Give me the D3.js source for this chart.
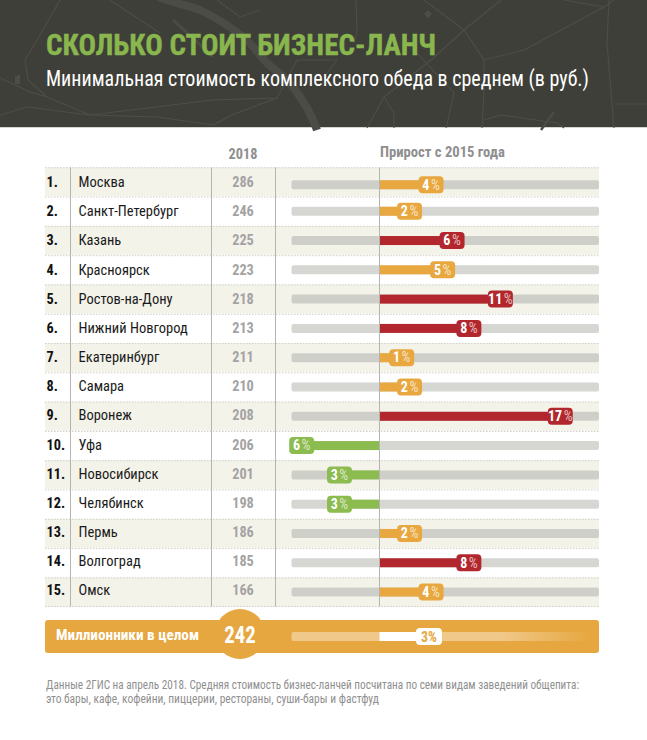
<!DOCTYPE html>
<html><head><meta charset="utf-8">
<script src="https://cdn.jsdelivr.net/npm/d3@7"></script>
<style>
html,body{margin:0;padding:0;background:#fff}
svg{display:block}
text{font-family:"Liberation Sans Narrow","Roboto Condensed","Liberation Sans",Roboto,sans-serif}
</style></head><body>
<svg id="c" width="647" height="740"></svg>
<script>
const cities=["Москва","Санкт-Петербург","Казань","Красноярск","Ростов-на-Дону","Нижний Новгород","Екатеринбург","Самара","Воронеж","Уфа","Новосибирск","Челябинск","Пермь","Волгоград","Омск"];
const prices=[286,246,225,223,218,213,211,210,208,206,201,198,186,185,166];
const growthLabels=[4,2,6,5,11,8,1,2,17,6,3,3,2,8,4];
const growthBars=[4.1,2.05,6.1,5.2,10.7,7.7,1.3,2.05,16.4,-6.6,-3,-3,2.05,7.7,4.1];
const totalName="Миллионники в целом";
const totalPrice=242;
const totalLabel=3;
const totalBar=3.95;
const mapRoads=[
"M0,78 L30,92 L47,97 L90,115 L157,117 L213,125","M60,0 L43,30 L25,60 L28,80 L47,97","M0,115 L27,107 L90,115 L213,100 L277,98 L297,60",
"M110,0 L160,33","M217,0 L240,17 L260,10","M356,0 L357,30 L354,43","M424,0 L464,30 L484,60 L484,93 L482,128","M501,0 L464,30 L431,60 L384,97 L367,128",
"M484,60 L524,50 L604,7 L614,0","M564,0 L604,7","M609,0 L607,43 L614,128","M614,104 L647,104","M384,97 L394,113 L394,128","M417,53 L454,93 L446,128",
"M337,60 L324,77","M484,120 L501,115 L557,123 L564,128","M297,60 L337,60","M213,125 L232,115 L277,98"];
const mapRiver="M158,-3 C175,3 190,6 200,10 C215,17 232,28 243,37 C253,45 260,56 267,63 C277,72 287,78 293,87 C303,100 312,115 317,130";
const mapBranch="M173,20 L195,40 L213,57";
const mapSpots=["M428,10 L432,14 L428,18 L424,14 Z","M15,77 L20,74 L20,84 L15,84 Z"];
const mapCanal="M554,112 L541,130";

const svg=d3.select("#c");
const defs=svg.append("defs");
const fade=defs.append("linearGradient").attr("id","fade");
fade.append("stop").attr("offset","0.7").attr("stop-color","#f0c98a");
fade.append("stop").attr("offset","1").attr("stop-color","#e6a740");

function squeeze(sel,k){sel.each(function(){const n=this.getComputedTextLength();d3.select(this).attr("textLength",n*k).attr("lengthAdjust","spacingAndGlyphs");});return sel;}

// header
svg.append("rect").attr("width",647).attr("height",127).attr("fill","#3f3f3a");
svg.append("rect").attr("y",127).attr("width",647).attr("height",1).attr("fill","#d5d5d0");
const mapG=svg.append("g").attr("fill","none");
mapG.selectAll("path.r").data(mapRoads).join("path").attr("class","r").attr("d",d=>d).attr("stroke","#4e4e48").attr("stroke-width",1.1);
mapG.append("path").attr("d",mapRiver).attr("stroke","#4c4c46").attr("stroke-width",8);
mapG.append("path").attr("d",mapBranch).attr("stroke","#4c4c46").attr("stroke-width",3);
mapG.append("path").attr("d",mapCanal).attr("stroke","#4c4c46").attr("stroke-width",2.5);
mapG.selectAll("path.s").data(mapSpots).join("path").attr("class","s").attr("d",d=>d).attr("fill","#4e4e48");
svg.append("text").text("СКОЛЬКО СТОИТ БИЗНЕС-ЛАНЧ").attr("x",46).attr("y",55).attr("fill","#8ab64e")
  .attr("font-size",30).attr("font-weight",700).attr("stroke","#8ab64e").attr("stroke-width",.4).attr("textLength",390).attr("lengthAdjust","spacingAndGlyphs");
svg.append("text").text("Минимальная стоимость комплексного обеда в среднем (в руб.)").attr("x",46).attr("y",85.5).attr("fill","#fff")
  .attr("font-size",21.5).attr("textLength",543).attr("lengthAdjust","spacingAndGlyphs");

const y=d3.scaleBand().domain(cities).range([167.3,606.7]);
const x=d3.scaleLinear().domain([-8.38,20.9]).range([291.5,599]);
const color=d3.scaleThreshold().domain([0,5.5]).range(["#8cbb4f","#e8a83f","#b2272d"]);
const BW=25,BH=17,OUT=21;

squeeze(svg.append("text").text("2018").attr("x",243).attr("y",159).attr("text-anchor","middle").attr("fill","#8f8f8f").attr("font-size",15.5).attr("font-weight",700),.92);
svg.append("text").text("Прирост с 2015 года").attr("x",380).attr("y",157).attr("fill","#8f8f8f").attr("font-size",14.5).attr("font-weight",700).attr("textLength",125).attr("lengthAdjust","spacingAndGlyphs");

const rows=svg.append("g").selectAll("g").data(cities).join("g").attr("transform",d=>`translate(0,${y(d)})`);
rows.append("rect").attr("x",45).attr("width",554).attr("height",y.bandwidth()).attr("fill",(d,i)=>i%2?"#fff":"#f4f3ea");
rows.append("line").attr("x1",45).attr("x2",599).attr("y1",0.5).attr("y2",0.5).attr("stroke","#cfcfc8").attr("stroke-dasharray","1.5 1.5");
svg.append("line").attr("x1",45).attr("x2",599).attr("y1",606.5).attr("y2",606.5).attr("stroke","#cfcfc8").attr("stroke-dasharray","1.5 1.5");

[70.5,211.5,275.5,x(0)].forEach(v=>svg.append("line").attr("x1",v).attr("x2",v).attr("y1",167.5).attr("y2",606.5).attr("stroke","#b5b5ae").attr("stroke-width",1));

const cy=y.bandwidth()/2;
const dy=i=>i===0?2.8:0;
const ty=i=>cy+5.2-i*0.13;
squeeze(rows.append("text").text((d,i)=>(i+1)+".").attr("x",46.5).attr("y",(d,i)=>ty(i)).attr("font-size",15.5).attr("font-weight",700).attr("fill","#111"),.92);
squeeze(rows.append("text").text(d=>d).attr("x",78.5).attr("y",(d,i)=>ty(i)).attr("font-size",15.5).attr("fill","#1a1a1a"),.935);
squeeze(rows.append("text").text((d,i)=>prices[i]).attr("x",243).attr("y",(d,i)=>ty(i)).attr("text-anchor","middle").attr("font-size",15.5).attr("font-weight",700).attr("fill","#a3a3a3"),.92);

rows.append("rect").attr("x",x.range()[0]).attr("width",x.range()[1]-x.range()[0]).attr("y",(d,i)=>cy+dy(i)-4.5).attr("height",9).attr("rx",2).attr("fill",(d,i)=>i%2?"#d6d6d3":"#cfcfca");
rows.append("rect").attr("x",(d,i)=>Math.min(x(0),x(growthBars[i]))).attr("width",(d,i)=>Math.abs(x(growthBars[i])-x(0))).attr("y",(d,i)=>cy+dy(i)-4.5).attr("height",9).attr("fill",(d,i)=>color(growthBars[i]));
rows.append("rect").attr("x",(d,i)=>growthBars[i]>=0?x(growthBars[i])+OUT-BW:x(growthBars[i])-OUT).attr("y",(d,i)=>cy+dy(i)-BH/2).attr("width",BW).attr("height",BH).attr("rx",4).attr("fill",(d,i)=>color(growthBars[i]));
const bt=rows.append("text").attr("x",(d,i)=>growthBars[i]>=0?x(growthBars[i])+OUT-BW/2:x(growthBars[i])-OUT+BW/2).attr("y",(d,i)=>cy+dy(i)+4.8).attr("text-anchor","middle").attr("font-size",14).attr("fill","#fff");
bt.append("tspan").attr("font-weight",700).text((d,i)=>growthLabels[i]);
bt.append("tspan").attr("fill-opacity",.7).attr("dx",1.5).text("%");

// total band
const T=svg.append("g");
T.append("rect").attr("x",45).attr("y",620).attr("width",554).attr("height",33).attr("rx",3).attr("fill","#e6a740");
T.append("circle").attr("cx",240).attr("cy",634).attr("r",25).attr("fill","#e6a740");
T.append("rect").attr("x",x.range()[0]).attr("y",632).attr("width",x(20)-x.range()[0]).attr("height",9).attr("rx",2).attr("fill","url(#fade)");
T.append("rect").attr("x",x(0)).attr("y",632).attr("width",x(totalBar)-x(0)).attr("height",9).attr("fill","#fff");
T.append("rect").attr("x",x(totalBar)+OUT-BW-1).attr("y",628).attr("width",BW+1).attr("height",17).attr("rx",4).attr("fill","#fff");
T.append("text").attr("x",x(totalBar)+OUT-BW/2-.5).attr("y",641.5).attr("text-anchor","middle").attr("font-size",14).attr("font-weight",700).attr("fill","#e6a740").text(totalLabel+"%");
T.append("text").text(totalName).attr("x",56).attr("y",640).attr("fill","#fff").attr("font-size",14.5).attr("font-weight",700).attr("textLength",143).attr("lengthAdjust","spacingAndGlyphs");
squeeze(T.append("text").text(totalPrice).attr("x",240).attr("y",643).attr("text-anchor","middle").attr("fill","#fff").attr("font-size",23).attr("font-weight",700),.9);

// footnote
svg.append("text").text("Данные 2ГИС на апрель 2018. Средняя стоимость бизнес-ланчей посчитана по семи видам заведений общепита:").attr("x",46).attr("y",689).attr("fill","#8f8f8f").attr("font-size",12).attr("textLength",533).attr("lengthAdjust","spacingAndGlyphs");
svg.append("text").text("это бары, кафе, кофейни, пиццерии, рестораны, суши-бары и фастфуд").attr("x",46).attr("y",703).attr("fill","#8f8f8f").attr("font-size",12).attr("textLength",333).attr("lengthAdjust","spacingAndGlyphs");
</script></body></html>
